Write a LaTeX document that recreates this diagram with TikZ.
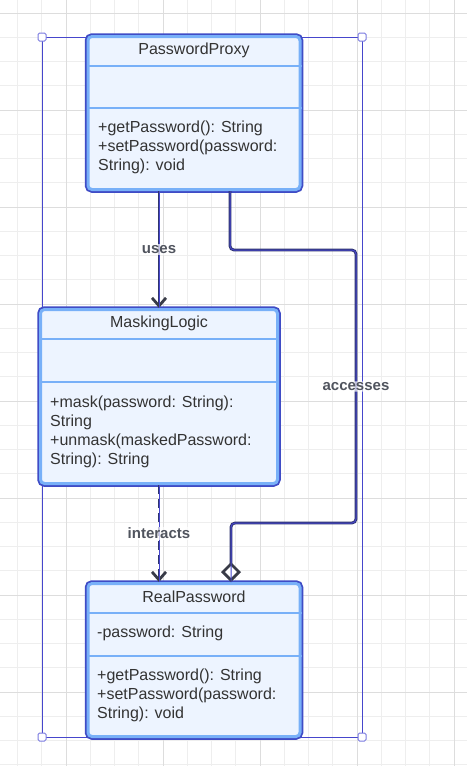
\documentclass[tikz,border=0pt]{standalone}
\usepackage{fontspec}
\setmainfont{Liberation Sans}
\usetikzlibrary{arrows.meta}

\definecolor{gridminor}{HTML}{EEEEEE}
\definecolor{gridmajor}{HTML}{DDDDDD}
\definecolor{classfill}{HTML}{EDF4FF}
\definecolor{classedge}{HTML}{3F4CC6}
\definecolor{classline}{HTML}{78B0F8}
\definecolor{wire}{HTML}{30356E}
\definecolor{tipgray}{HTML}{383B47}
\definecolor{selblue}{HTML}{4646CC}
\definecolor{handleblue}{HTML}{7A7AE0}
\definecolor{labelgray}{HTML}{50545E}
\definecolor{textgray}{HTML}{333333}

\begin{document}
\begin{tikzpicture}[x=1pt,y=-1pt]
	\tikzstyle{classbox}=[rectangle,rounded corners=4pt,fill=classfill,draw=classline,line width=3pt,
		preaction={draw=classedge,line width=6.5pt},inner sep=0pt]
	\tikzstyle{sepline}=[draw=classline,line width=2.8pt]
	\tikzstyle{title}=[font=\fontsize{16}{19}\selectfont,text=textgray,inner sep=0pt]
	\tikzstyle{members}=[font=\fontsize{16}{19}\selectfont,text=textgray,align=left,inner sep=0pt,anchor=north west]
	\tikzstyle{link}=[draw=wire,line width=2.8pt,postaction={draw=selblue,line width=1pt,solid,-}]
	\tikzstyle{edgelabel}=[font=\bfseries\fontsize{15}{18}\selectfont,text=labelgray,fill=white,fill opacity=0.7,text opacity=1,inner sep=1pt]
	\tikzstyle{handle}=[rectangle,rounded corners=1.5pt,draw=handleblue,fill=white,line width=1pt,minimum size=8pt,inner sep=0pt]
	% canvas and grid
	\useasboundingbox[fill=white] (0,0) rectangle (467,766);
	\foreach \k in {0,...,19}
		\draw[gridminor,line width=1pt] ({454-24.25*\k},0) -- ++(0,766);
	\foreach \k in {0,...,31}
		\draw[gridminor,line width=1pt] (0,{13+24.25*\k}) -- ++(467,0);
	\foreach \gx in {66,163,260,357,454}
		\draw[gridmajor,line width=1pt] (\gx,0) -- ++(0,766);
	\foreach \gy in {13,110,207,304,401,498,595,692}
		\draw[gridmajor,line width=1pt] (0,\gy) -- ++(467,0);
	% selection frame
	\coordinate (selNW) at (42,37);
	\coordinate (selSE) at (362,737);
	\draw[selblue,line width=1pt] (selNW) rectangle (selSE);
	\node[handle](hNW) at (selNW) {};
	\node[handle](hNE) at (selNW -| selSE) {};
	\node[handle](hSW) at (selNW |- selSE) {};
	\node[handle](hSE) at (selSE) {};
	% classes
	\node[classbox,minimum width=212pt,minimum height=153pt](proxy) at (194,113) {};
	\draw[sepline] (proxy.west |- 0,66) -- (proxy.east |- 0,66);
	\draw[sepline] (proxy.west |- 0,108) -- (proxy.east |- 0,108);
	\node[title](proxyName) at (194,50) {PasswordProxy};
	\node[members](proxyOps) at (98,121) {+getPassword(): String\\+setPassword(password:\\String): void};

	\node[classbox,minimum width=237pt,minimum height=174pt](masking) at (159,396.5) {};
	\draw[sepline] (masking.west |- 0,339) -- (masking.east |- 0,339);
	\draw[sepline] (masking.west |- 0,382) -- (masking.east |- 0,382);
	\node[title](maskingName) at (159,323) {MaskingLogic};
	\node[members](maskingOps) at (50,396) {+mask(password: String):\\String\\+unmask(maskedPassword:\\String): String};

	\node[classbox,minimum width=212pt,minimum height=153pt](real) at (194,660) {};
	\draw[sepline] (real.west |- 0,613) -- (real.east |- 0,613);
	\draw[sepline] (real.west |- 0,656) -- (real.east |- 0,656);
	\node[title](realName) at (194,597) {RealPassword};
	\node[members,anchor=west](realAttrs) at (97,633) {-password: String};
	\node[members](realOps) at (97,669) {+getPassword(): String\\+setPassword(password:\\String): void};
	% relations
	\draw[link,-{Straight Barb[color=tipgray,length=8pt,width=14pt]}] (proxy.south -| masking.north) -- node[edgelabel]{uses} (masking.north);
	\draw[link,dashed,dash pattern=on 9pt off 5pt,-{Straight Barb[color=tipgray,length=8pt,width=14pt]}] (masking.south) -- node[edgelabel]{interacts} (real.north -| masking.south);
	\coordinate (routeTop) at (356,250);
	\coordinate (routeBot) at (356,523);
	\draw[link,rounded corners=4pt,-{Diamond[color=tipgray,fill=white,length=20pt,width=20pt]}] ([xshift=36pt]proxy.south) |- (routeTop) -- node[edgelabel]{accesses} (routeBot) -| ([xshift=37pt]real.north);
\end{tikzpicture}
\end{document}
